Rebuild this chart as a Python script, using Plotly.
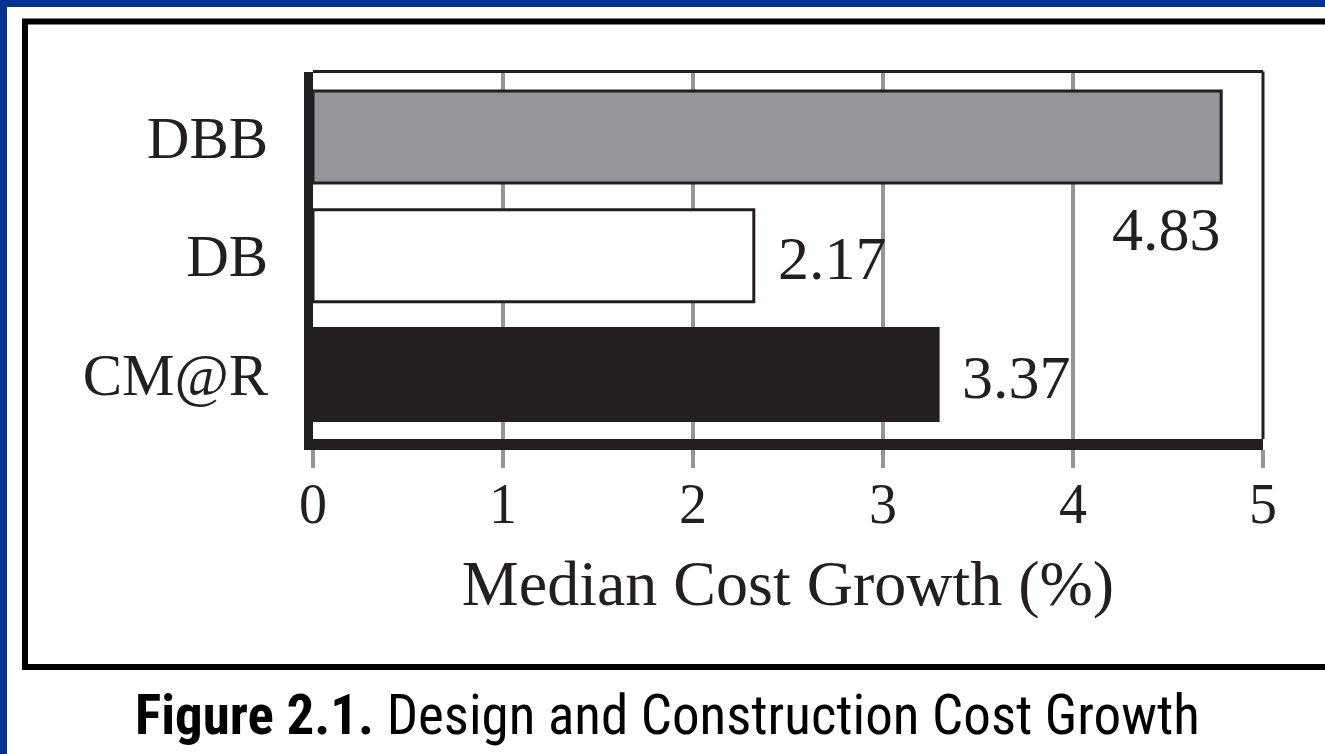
import plotly.graph_objects as go

# ---- data ----
categories = ["DBB", "DB", "CM@R"]
bar_values = [4.78, 2.32, 3.29]          # bar lengths as drawn
value_labels = ["4.83", "2.17", "3.37"]  # printed labels
x_ticks = [0, 1, 2, 3, 4, 5]
x_title = "Median Cost Growth (%)"
caption_bold = "Figure 2.1."
caption_rest = " Design and Construction Cost Growth"

# ---- layout geometry (pixels) ----
FIG_W, FIG_H = 1325, 754
L, R, T, B = 313, 62, 72, 315
PW, PH = FIG_W - L - R, FIG_H - T - B

def xp(px):
    return (px - L) / PW

def yp(py):
    return 1 - (py - T) / PH

INK = "#231f20"
GRID = "#939598"
BLUE = "#00338f"
SERIF = "Liberation Serif, Times New Roman, serif"

fig = go.Figure()
fig.add_trace(go.Bar(
    y=categories,
    x=bar_values,
    orientation="h",
    width=0.775,
    marker=dict(color=[GRID, "#ffffff", INK], line=dict(color=INK, width=3)),
    hoverinfo="skip",
))

# value labels
for i, (cat, val, lab) in enumerate(zip(categories, bar_values, value_labels)):
    if i == 0:
        fig.add_annotation(x=val, y=cat, text=lab, showarrow=False,
                           xanchor="right", yanchor="middle", yshift=-92, xshift=2,
                           font=dict(family=SERIF, size=62, color=INK))
    else:
        fig.add_annotation(x=val, y=cat, text=lab, showarrow=False,
                           xanchor="left", yanchor="middle", xshift=22, yshift=-2,
                           font=dict(family=SERIF, size=62, color=INK))

# caption
fig.add_annotation(xref="paper", yref="paper", x=xp(667), y=yp(715),
                   xanchor="center", yanchor="middle", showarrow=False,
                   text="<b>" + caption_bold + "</b>" + caption_rest,
                   font=dict(family="Liberation Sans Narrow, Roboto Condensed, Noto Sans, sans-serif",
                             size=55, color="#000000"))

shapes = [
    # blue frame (top and left)
    dict(type="rect", xref="paper", yref="paper", x0=xp(-5), x1=xp(7), y0=yp(-5), y1=yp(FIG_H + 5),
         fillcolor=BLUE, line=dict(width=0), layer="above"),
    dict(type="rect", xref="paper", yref="paper", x0=xp(-5), x1=xp(FIG_W + 5), y0=yp(-5), y1=yp(7),
         fillcolor=BLUE, line=dict(width=0), layer="above"),
    # outer black box
    dict(type="rect", xref="paper", yref="paper", x0=xp(25), x1=xp(FIG_W + 40), y0=yp(21.5), y1=yp(667),
         line=dict(color="#000000", width=6), fillcolor="rgba(0,0,0,0)", layer="above"),
    # thin top and right borders of plot
    dict(type="line", xref="paper", yref="paper", x0=0, x1=1, y0=yp(71.5), y1=yp(71.5),
         line=dict(color=INK, width=3), layer="above"),
    dict(type="line", xref="paper", yref="paper", x0=1, x1=1, y0=0, y1=yp(71.5),
         line=dict(color=INK, width=3), layer="above"),
]

fig.update_layout(
    width=FIG_W, height=FIG_H,
    margin=dict(l=L, r=R, t=T, b=B, pad=0),
    paper_bgcolor="#ffffff", plot_bgcolor="#ffffff",
    showlegend=False,
    shapes=shapes,
    xaxis=dict(
        range=[0, 5], tickvals=x_ticks, ticktext=[str(v) for v in x_ticks],
        showgrid=True, gridcolor=GRID, gridwidth=4, zeroline=False,
        showline=True, linecolor=INK, linewidth=11,
        ticks="outside", ticklen=18, tickwidth=4, tickcolor=GRID,
        ticklabelstandoff=-12,
        tickfont=dict(family=SERIF, size=56, color=INK),
        title=dict(text=x_title, font=dict(family=SERIF, size=64, color=INK), standoff=30),
        fixedrange=True,
    ),
    yaxis=dict(
        categoryorder="array", categoryarray=categories,
        range=[2.543, -0.547],
        showgrid=False, zeroline=False,
        showline=True, linecolor=INK, linewidth=9,
        ticks="", ticklabelstandoff=24,
        tickfont=dict(family=SERIF, size=59, color=INK),
        fixedrange=True,
    ),
)

fig.write_html("out.html")
